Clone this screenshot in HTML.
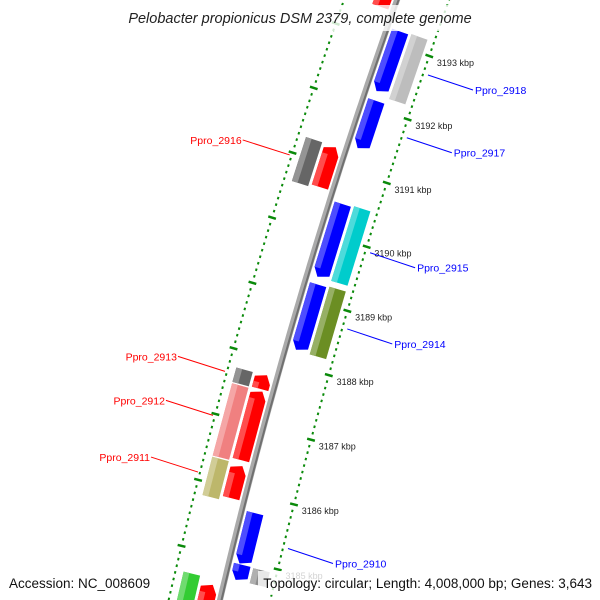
<!DOCTYPE html>
<html><head><meta charset="utf-8"><style>
html,body{margin:0;padding:0;background:#fff;overflow:hidden;width:600px;height:600px;}
svg{display:block;overflow:hidden;font-family:"Liberation Sans","DejaVu Sans",sans-serif;}
</style></head><body>
<svg id="map" width="600" height="600" viewBox="0 0 600 600" xmlns="http://www.w3.org/2000/svg">
<g id="rings"></g>
<g id="backbone"></g>
<g id="genes"></g>
<g id="labels"></g>
<rect x="112" y="5" width="376" height="26" fill="#fff" opacity="0.8"/>
<text x="300" y="23" text-anchor="middle" font-size="14.5" font-style="italic" fill="#222">Pelobacter propionicus DSM 2379, complete genome</text>
<rect x="4" y="571" width="148" height="24" fill="#fff" opacity="0.8"/>
<text x="9" y="588" font-size="13.5" fill="#111">Accession: NC_008609</text>
<rect x="258" y="571" width="338" height="24" fill="#fff" opacity="0.8"/>
<text x="592" y="588" text-anchor="end" font-size="13.5" fill="#111">Topology: circular; Length: 4,008,000 bp; Genes: 3,643</text>
</svg>
<script>
// ---- data (positions in kbp) ----
const geneStarts = [3192.25, 3192.2, 3191.36, 3189.36, 3189.36, 3188.23, 3188.22, 3184.95, 3184.7, 3184.7, 3193.45, 3190.64, 3190.6, 3187.53, 3187.52, 3186.44, 3186.4, 3185.86, 3185.8, 3183.6, 3183.6];
const geneEnds   = [3193.2, 3193.22, 3192.11, 3190.5, 3190.52, 3189.25, 3189.27, 3185.73, 3184.94, 3184.93, 3194.5, 3191.27, 3191.28, 3187.75, 3187.74, 3187.5, 3187.5, 3186.36, 3186.38, 3184.55, 3184.64];
const geneTracks = ["fi","fo","fi","fi","fo","fi","fo","fi","fi","fo","ri","ri","ro","ri","ro","ri","ro","ri","ro","ri","ro"];
const geneColors = ["#0000ff","#bdbdbd","#0000ff","#0000ff","#00cccc","#0000ff","#6b8e23","#0000ff","#0000ff","#8c8c8c","#ff0000","#ff0000","#666666","#ff0000","#666666","#ff0000","#f08080","#ff0000","#bdb76b","#ff0000","#33cc33"];
const labelNames = ["Ppro_2918","Ppro_2917","Ppro_2915","Ppro_2914","Ppro_2910","Ppro_2916","Ppro_2913","Ppro_2912","Ppro_2911"];
const labelGene  = [0, 2, 3, 5, 7, 11, 13, 15, 17];
const tickKbp = [3185, 3186, 3187, 3188, 3189, 3190, 3191, 3192, 3193];

// ---- geometry ----
const CX = 5724, CY = 1898, R = 5655;
function pt(kbp, r) {
  const phi = 0.3348 + (kbp - 3193) * 0.01194;
  const rr = R + r;
  return [CX - rr * Math.cos(phi), CY - rr * Math.sin(phi)];
}
const NS = "http://www.w3.org/2000/svg";
function mk(tag, parent) { const e = document.createElementNS(NS, tag); parent.appendChild(e); return e; }
const P = a => a.map(p => p[0].toFixed(1) + "," + p[1].toFixed(1)).join(" ");
function lighten(hex, f) {
  const n = parseInt(hex.slice(1), 16);
  const c = [n >> 16, (n >> 8) & 255, n & 255].map(v => Math.round(v + (255 - v) * f));
  return "rgb(" + c.join(",") + ")";
}

// backbone
const bb = document.getElementById("backbone");
const bpts = []; for (let k = 3183.5; k <= 3195; k += 0.1) bpts.push(pt(k, 0));
const bl1 = mk("polyline", bb);


bl1.setAttribute("points", P(bpts)); bl1.setAttribute("fill", "none"); bl1.setAttribute("stroke", "#aaaaaa"); bl1.setAttribute("stroke-width", "6");
const bpts2 = []; for (let k = 3183.5; k <= 3195; k += 0.1) bpts2.push(pt(k, -1.5));
const bl2 = mk("polyline", bb);


bl2.setAttribute("points", P(bpts2)); bl2.setAttribute("fill", "none"); bl2.setAttribute("stroke", "#707070"); bl2.setAttribute("stroke-width", "2");

// tick rings
const rings = document.getElementById("rings");
[-49, 50].forEach(rc => {
  for (let k = 3183.5; k <= 3195; k += 0.1) {
    const major = Math.abs(k - Math.round(k)) < 0.01;
    const a = pt(k, rc - (major ? 4 : 1)), b = pt(k, rc + (major ? 4 : 1));
    const l = mk("line", rings);
    
    
    l.setAttribute("x1", a[0]); l.setAttribute("y1", a[1]); l.setAttribute("x2", b[0]); l.setAttribute("y2", b[1]);
    l.setAttribute("stroke", "#0a8a0a"); l.setAttribute("stroke-width", "2.5");
  }
});
tickKbp.forEach(k => {
  const p = pt(k, -55);
  const t = mk("text", rings);
  
  
  t.setAttribute("x", p[0] + 2); t.setAttribute("y", p[1] + 8);
  t.setAttribute("font-size", "9"); t.setAttribute("fill", "#222");
  t.textContent = k + " kbp";
});

// genes
const trackR = { fi: [-5, -22], fo: [-25, -42], ri: [5, 22], ro: [25, 42] };
const gG = document.getElementById("genes");
geneStarts.forEach((s, i) => {
  const e = geneEnds[i], tr = geneTracks[i], col = geneColors[i];
  const [ra, rb] = trackR[tr];
  const lo = Math.min(ra, rb), hi = Math.max(ra, rb), mid = (lo + hi) / 2;
  const h = 0.13;
  let poly;
  if (tr === "fi") {
    poly = [pt(e, lo), pt(e, hi), pt(s + h, hi), pt(s, mid + 3), pt(s + h * 0.4, lo)];
  } else if (tr === "ri") {
    poly = [pt(s, lo), pt(s, hi), pt(e - h * 0.4, hi), pt(e, mid - 3), pt(e - h, lo)];
  } else {
    poly = [pt(s, lo), pt(s, hi), pt(e, hi), pt(e, lo)];
  }
  const g = mk("polygon", gG);
  
  
  g.setAttribute("points", P(poly)); g.setAttribute("fill", col);
  const w = hi - lo;
  const ks = tr === "fi" ? s + h : s, ke = tr === "ri" ? e - h : e;
  const hl = mk("polygon", gG);
  
  
  hl.setAttribute("points", P([pt(ks, hi - w * 0.35), pt(ks, hi), pt(ke, hi), pt(ke, hi - w * 0.35)]));
  hl.setAttribute("fill", lighten(col, 0.3));
});

// labels
const lG = document.getElementById("labels");
labelNames.forEach((name, j) => {
  const gi = labelGene[j];
  const km = (geneStarts[gi] + geneEnds[gi]) / 2;
  const fwd = geneTracks[gi][0] === "f";
  const col = fwd ? "#0000ff" : "#ff0000";
  const a = pt(km, fwd ? -54 : 52);
  const b = fwd ? [a[0] + 45, a[1] + 15] : [a[0] - 47, a[1] - 15];
  const l = mk("line", lG);
  
  
  l.setAttribute("x1", a[0]); l.setAttribute("y1", a[1]); l.setAttribute("x2", b[0]); l.setAttribute("y2", b[1]);
  l.setAttribute("stroke", col); l.setAttribute("stroke-width", "1");
  const t = mk("text", lG);
  
  
  t.setAttribute("x", fwd ? b[0] + 2 : b[0] - 1); t.setAttribute("y", b[1] + 4);
  t.setAttribute("text-anchor", fwd ? "start" : "end");
  t.setAttribute("font-size", "10.5"); t.setAttribute("fill", col);
  t.textContent = name;
});
</script>
</body></html>
